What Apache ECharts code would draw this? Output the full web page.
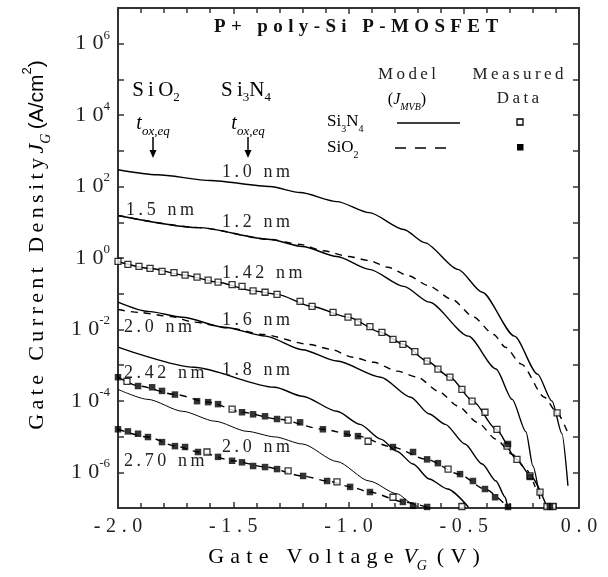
<!DOCTYPE html>
<html>
<head>
<meta charset="utf-8">
<script src="https://cdn.jsdelivr.net/npm/echarts@6/dist/echarts.min.js"></script>
<style>
  html, body { margin: 0; padding: 0; background: #fff; }
  #chart { width: 608px; height: 577px; }
</style>
</head>
<body>
<div id="chart"></div>
<script>
// axis ranges
const xRange = [-2.0, 0.0];
const yRange = [1e-7, 1e7];

// model curves, [V_G (V), J_G (A/cm^2)]
// Si3N4, solid
const si3n4_10 = [[-2.0,295],[-1.83,214],[-1.6,148],[-1.34,100],[-1.21,68],[-1.05,38],[-0.91,18.6],[-0.76,6.3],[-0.67,2.7],[-0.525,0.48],[-0.42,0.11],[-0.28,6.5e-3],[-0.18,5.6e-4],[-0.117,9.8e-5],[-0.074,1.2e-5],[-0.048,4.2e-7]];
const si3n4_12 = [[-2.0,15.5],[-1.65,7.1],[-1.34,3.3],[-1.2,2.1],[-1.05,1.1],[-0.91,0.48],[-0.76,0.16],[-0.65,5.8e-2],[-0.48,6.5e-3],[-0.36,7.8e-4],[-0.29,1.1e-4],[-0.23,1.35e-5],[-0.2,1.5e-6],[-0.17,1.8e-7]];
const si3n4_142 = [[-2.0,0.8],[-1.86,0.51],[-1.71,0.33],[-1.57,0.21],[-1.41,0.12],[-1.31,9.6e-2],[-1.16,4.4e-2],[-1.0,2.2e-2],[-0.86,8.3e-3],[-0.76,3.8e-3],[-0.66,1.3e-3],[-0.56,4.6e-4],[-0.46,9.8e-5],[-0.36,1.6e-5],[-0.27,2.3e-6],[-0.21,7.9e-7],[-0.14,1.1e-7]];
const si3n4_16 = [[-2.0,5.8e-2],[-1.87,3.2e-2],[-1.72,2.2e-2],[-1.54,1.15e-2],[-1.36,6.5e-3],[-1.2,2.7e-3],[-1.05,1.3e-3],[-0.86,4.6e-4],[-0.73,1.26e-4],[-0.65,4.3e-5],[-0.58,2.2e-5],[-0.495,6.2e-6],[-0.42,1.7e-6],[-0.36,5.7e-7],[-0.32,2.0e-7],[-0.31,1.07e-7]];
const si3n4_18 = [[-2.0,3.2e-3],[-1.67,8.7e-4],[-1.32,2.4e-4],[-1.2,1.35e-4],[-1.05,5.1e-5],[-0.95,2.2e-5],[-0.86,8.5e-6],[-0.79,3.9e-6],[-0.72,1.7e-6],[-0.65,6.5e-7],[-0.57,3.4e-7],[-0.48,1.07e-7]];
const si3n4_20 = [[-2.0,2.1e-4],[-1.87,1.1e-4],[-1.72,5.1e-5],[-1.58,2.7e-5],[-1.44,1.4e-5],[-1.32,9.8e-6],[-1.2,6.2e-6],[-1.05,2.0e-6],[-0.91,5.7e-7],[-0.79,2.5e-7],[-0.72,1.3e-7],[-0.70,1.07e-7]];
// SiO2, dashed
const sio2_15 = [[-2.0,15.5],[-1.65,7.1],[-1.34,3.3],[-1.21,2.4],[-1.11,1.6],[-1.0,1.1],[-0.91,0.85],[-0.83,0.55],[-0.74,0.32],[-0.655,0.17],[-0.55,6.9e-2],[-0.46,2.3e-2],[-0.37,7.2e-3],[-0.32,3.2e-3],[-0.25,1.07e-3],[-0.15,1.26e-4],[-0.095,4.6e-5],[-0.05,1.35e-5]];
const sio2_20 = [[-2.0,3.6e-2],[-1.91,3.0e-2],[-1.77,2.3e-2],[-1.67,1.6e-2],[-1.52,1.1e-2],[-1.37,7.2e-3],[-1.17,3.8e-3],[-1.08,2.8e-3],[-0.98,1.66e-3],[-0.89,1.2e-3],[-0.79,6.8e-4],[-0.70,4.6e-4],[-0.61,1.86e-4],[-0.525,7.1e-5],[-0.44,2.5e-5],[-0.36,8.5e-6],[-0.29,3.2e-6],[-0.23,1.23e-6],[-0.19,3.9e-7]];
const sio2_242 = [[-2.0,4.6e-4],[-1.91,2.6e-4],[-1.75,1.5e-4],[-1.61,9.2e-5],[-1.46,4.8e-5],[-1.31,3.1e-5],[-1.11,1.6e-5],[-0.96,1.03e-5],[-0.81,5.1e-6],[-0.66,2.3e-6],[-0.52,8.9e-7],[-0.41,3.4e-7],[-0.31,1.07e-7]];
const sio2_270 = [[-2.0,1.6e-5],[-1.87,9.7e-6],[-1.75,5.4e-6],[-1.65,3.7e-6],[-1.5,2.1e-6],[-1.36,1.4e-6],[-1.2,7.9e-7],[-1.09,5.7e-7],[-0.99,3.9e-7],[-0.91,2.8e-7],[-0.76,1.48e-7],[-0.66,1.07e-7]];

// measured data
const measSi3n4 = [[-2.0,0.80],[-1.957,0.66],[-1.909,0.58],[-1.861,0.51],[-1.809,0.42],[-1.757,0.39],[-1.709,0.33],[-1.657,0.29],[-1.609,0.24],[-1.566,0.21],[-1.505,0.18],[-1.462,0.16],[-1.414,0.12],[-1.362,0.11],[-1.31,0.096],[-1.21,0.061],[-1.158,0.044],[-1.067,0.030],[-1.002,0.022],[-0.959,0.016],[-0.907,0.012],[-0.855,8.3e-3],[-0.807,5.3e-3],[-0.764,3.8e-3],[-0.712,2.4e-3],[-0.659,1.3e-3],[-0.612,7.7e-4],[-0.56,4.6e-4],[-0.508,2.1e-4],[-0.464,9.8e-5],[-0.408,4.8e-5],[-0.356,1.6e-5],[-0.312,5.4e-6],[-0.269,2.3e-6],[-0.213,7.9e-7],[-0.169,2.8e-7],[-0.139,1.1e-7],[-0.113,1.1e-7],
  [-0.095,4.6e-5],[-1.961,3.5e-4],[-1.505,5.9e-5],[-1.262,2.9e-5],[-0.915,7.4e-6],[-0.568,1.23e-6],[-1.614,3.7e-6],[-1.262,1.1e-6],[-1.05,5.4e-7],[-0.807,2.0e-7],[-0.508,1.1e-7]];
const measSio2 = [[-2.0,4.6e-4],[-1.913,2.6e-4],[-1.852,2.4e-4],[-1.809,1.9e-4],[-1.753,1.5e-4],[-1.657,9.8e-5],[-1.609,9.2e-5],[-1.566,8.1e-5],[-1.462,4.8e-5],[-1.414,4.2e-5],[-1.362,3.7e-5],[-1.31,3.1e-5],[-1.21,2.5e-5],[-1.111,1.6e-5],[-1.007,1.2e-5],[-0.959,1.03e-5],[-0.807,5.1e-6],[-0.72,3.7e-6],[-0.659,2.3e-6],[-0.612,1.8e-6],[-0.516,8.9e-7],[-0.46,5.7e-7],[-0.408,3.4e-7],[-0.364,2.0e-7],[-0.308,1.07e-7],
  [-2.0,1.6e-5],[-1.957,1.4e-5],[-1.913,1.2e-5],[-1.87,9.7e-6],[-1.809,7.0e-6],[-1.753,5.4e-6],[-1.709,5.1e-6],[-1.653,3.7e-6],[-1.566,2.7e-6],[-1.505,2.1e-6],[-1.462,1.9e-6],[-1.414,1.5e-6],[-1.362,1.4e-6],[-1.31,1.23e-6],[-1.197,7.9e-7],[-1.093,5.7e-7],[-0.993,3.9e-7],[-0.907,2.8e-7],[-0.764,1.48e-7],[-0.72,1.15e-7],[-0.659,1.07e-7],
  [-0.308,6.2e-6],[-0.213,7.4e-7],[-0.126,1.1e-7]];

const FONT = 'Liberation Serif';
const INK = '#222';
const TS = '\u2009';          // thin space
const WS = '\u2009\u200a';    // thin + hair space, for the wide letter spacing
const NB = '\u00a0\u2009';    // word gap that survives at the end of a rich token
const spaced = (s, gap) => s.split('').join(gap || WS);

const chart = echarts.init(document.getElementById('chart'));

function model(data, dashed, width) {
  return {
    type: 'line', data: data, symbol: 'none', smooth: 0.25, smoothMonotone: 'x', silent: true, z: 2,
    lineStyle: { color: '#000', width: width || 1.4, type: dashed ? [7, 6] : 'solid' }
  };
}

function txt(x, y, text, size, align) {
  return { type: 'text', x: x, y: y, z: 10,
    style: { text: text, fontFamily: FONT, fontSize: size, fill: INK, align: align || 'left', verticalAlign: 'middle' } };
}

function rtxt(x, y, text, rich, align, rotation) {
  return { type: 'text', x: x, y: y, z: 10, rotation: rotation || 0,
    style: { text: text, rich: rich, align: align || 'left', verticalAlign: 'middle' } };
}

const subRich = (size) => ({
  a: { fontFamily: FONT, fontSize: size, color: INK, lineHeight: size + 8, verticalAlign: 'middle' },
  s: { fontFamily: FONT, fontSize: Math.round(size * 0.6), color: INK, verticalAlign: 'bottom' }
});
const tRich = {
  t: { fontFamily: FONT, fontStyle: 'italic', fontSize: 20, color: INK, lineHeight: 28, verticalAlign: 'middle' },
  s: { fontFamily: FONT, fontStyle: 'italic', fontSize: 13, color: INK, verticalAlign: 'bottom' }
};

function axisCommon(pos) {
  return {
    position: pos,
    axisLine: { show: true, onZero: false, lineStyle: { color: '#333', width: 2 } },
    axisTick: { show: true, inside: true, length: 6, lineStyle: { color: '#333', width: 1.5 } },
    splitLine: { show: false }
  };
}

chart.setOption({
  animation: false,
  backgroundColor: '#fff',
  grid: { left: 118, top: 8, right: 29, bottom: 69 },
  xAxis: [
    Object.assign(axisCommon('bottom'), {
      type: 'value', min: xRange[0], max: xRange[1], interval: 0.5,
      minorTick: { show: true, splitNumber: 5, length: 5, lineStyle: { color: '#333', width: 1.5 } },
      axisLabel: { margin: 9, fontFamily: FONT, fontSize: 20, color: INK, formatter: v => spaced(v.toFixed(1)) }
    }),
    Object.assign(axisCommon('top'), {
      type: 'value', min: xRange[0], max: xRange[1], interval: 0.5,
      minorTick: { show: true, splitNumber: 5, length: 5, lineStyle: { color: '#333', width: 1.5 } },
      axisLabel: { show: false }
    })
  ],
  yAxis: [
    Object.assign(axisCommon('left'), {
      type: 'log', logBase: 10, min: yRange[0], max: yRange[1], interval: 1,
      axisLabel: {
        margin: 8,
        formatter: v => {
          const e = Math.round(Math.log10(v));
          return e % 2 ? '' : '{b|1' + WS + '0}{p|' + e + '}';
        },
        rich: {
          b: { fontFamily: FONT, fontSize: 22, color: INK, lineHeight: 30, verticalAlign: 'middle' },
          p: { fontFamily: FONT, fontSize: 13, color: INK, verticalAlign: 'top' }
        }
      }
    }),
    Object.assign(axisCommon('right'), {
      type: 'log', logBase: 10, min: yRange[0], max: yRange[1], interval: 1,
      axisLabel: { show: false }
    })
  ],
  series: [
    model(si3n4_10), model(si3n4_12), model(si3n4_142), model(si3n4_16), model(si3n4_18), model(si3n4_20, false, 1),
    model(sio2_15, true), model(sio2_20, true), model(sio2_242, true), model(sio2_270, true),
    { type: 'scatter', data: measSi3n4, symbol: 'rect', symbolSize: 6, silent: true, z: 4,
      itemStyle: { color: '#fff', borderColor: '#000', borderWidth: 1.3 } },
    { type: 'scatter', data: measSio2, symbol: 'rect', symbolSize: 6.5, silent: true, z: 5,
      itemStyle: { color: '#000' } }
  ],
  graphic: [
    // title
    { type: 'text', x: 356, y: 27, z: 10,
      style: { text: spaced('P+ poly-Si P-MOSFET'), fontFamily: FONT, fontWeight: 'bold', fontSize: 19, fill: '#111', align: 'center', verticalAlign: 'middle' } },
    // column headers
    rtxt(156, 90, '{a|' + spaced('SiO', TS) + '}{s|2}', subRich(21), 'center'),
    rtxt(246, 90, '{a|' + spaced('Si', TS) + '}{s|3}{a|N}{s|4}', subRich(21), 'center'),
    rtxt(153, 124, '{t|t}{s|ox,eq}', tRich, 'center'),
    rtxt(248, 124, '{t|t}{s|ox,eq}', tRich, 'center'),
    { type: 'line', shape: { x1: 153, y1: 137, x2: 153, y2: 152 }, style: { stroke: '#000', lineWidth: 1.5 } },
    { type: 'polygon', shape: { points: [[149.5, 150], [156.5, 150], [153, 158]] }, style: { fill: '#000' } },
    { type: 'line', shape: { x1: 248, y1: 137, x2: 248, y2: 152 }, style: { stroke: '#000', lineWidth: 1.5 } },
    { type: 'polygon', shape: { points: [[244.5, 150], [251.5, 150], [248, 158]] }, style: { fill: '#000' } },
    // curve labels
    txt(222, 172, spaced('1.0 nm', TS), 18),
    txt(222, 222, spaced('1.2 nm', TS), 18),
    txt(222, 273, spaced('1.42 nm', TS), 18),
    txt(222, 320, spaced('1.6 nm', TS), 18),
    txt(222, 370, spaced('1.8 nm', TS), 18),
    txt(222, 447, spaced('2.0 nm', TS), 18),
    txt(126, 210, spaced('1.5 nm', TS), 18),
    txt(124, 327, spaced('2.0 nm', TS), 18),
    txt(124, 373, spaced('2.42 nm', TS), 18),
    txt(124, 461, spaced('2.70 nm', TS), 18),
    // legend
    txt(407, 75, spaced('Model', TS), 17, 'center'),
    rtxt(407, 100, '{a|(}{i|J}{s|MVB}{a|)}', {
      a: { fontFamily: FONT, fontSize: 16, color: INK, lineHeight: 24, verticalAlign: 'middle' },
      i: { fontFamily: FONT, fontStyle: 'italic', fontSize: 16, color: INK, lineHeight: 24, verticalAlign: 'middle' },
      s: { fontFamily: FONT, fontStyle: 'italic', fontSize: 10, color: INK, verticalAlign: 'bottom' }
    }, 'center'),
    txt(518, 75, spaced('Measured', TS), 17, 'center'),
    txt(518, 99, spaced('Data', TS), 17, 'center'),
    rtxt(327, 122, '{a|Si}{s|3}{a|N}{s|4}', subRich(17)),
    rtxt(327, 148, '{a|SiO}{s|2}', subRich(17)),
    { type: 'line', shape: { x1: 397, y1: 123, x2: 460, y2: 123 }, style: { stroke: '#000', lineWidth: 1.5 } },
    { type: 'line', shape: { x1: 395, y1: 148, x2: 455, y2: 148 }, style: { stroke: '#000', lineWidth: 1.5, lineDash: [11, 9] } },
    { type: 'rect', shape: { x: 517, y: 119, width: 6, height: 6 }, style: { fill: '#fff', stroke: '#000', lineWidth: 1.3 } },
    { type: 'rect', shape: { x: 517, y: 144, width: 6.5, height: 6.5 }, style: { fill: '#000' } },
    // axis titles
    rtxt(37, 245, '{a|' + spaced('Gate Current Density', TS) + TS + '}{i|J}{s|G}{a|' + TS + '}{c|(A/cm}{p|2}{c|)}', {
      a: { fontFamily: FONT, fontSize: 22, color: '#444', lineHeight: 32, verticalAlign: 'middle' },
      i: { fontFamily: FONT, fontStyle: 'italic', fontSize: 22, color: '#444', lineHeight: 32, verticalAlign: 'middle' },
      s: { fontFamily: FONT, fontStyle: 'italic', fontSize: 14, color: '#444', verticalAlign: 'bottom' },
      c: { fontFamily: 'Liberation Sans', fontSize: 21, color: '#444', lineHeight: 32, verticalAlign: 'middle' },
      p: { fontFamily: 'Liberation Sans', fontSize: 13, color: '#444', verticalAlign: 'top' }
    }, 'center', Math.PI / 2),
    rtxt(344, 557, '{a|' + spaced('Gate Voltage') + NB + '}{i|V}{s|G}{a|' + NB + spaced('(V)') + '}', {
      a: { fontFamily: FONT, fontSize: 22, color: '#444', lineHeight: 32, verticalAlign: 'middle' },
      i: { fontFamily: FONT, fontStyle: 'italic', fontSize: 22, color: '#444', lineHeight: 32, verticalAlign: 'middle' },
      s: { fontFamily: FONT, fontStyle: 'italic', fontSize: 14, color: '#444', verticalAlign: 'bottom' }
    }, 'center')
  ]
});
</script>
</body>
</html>
